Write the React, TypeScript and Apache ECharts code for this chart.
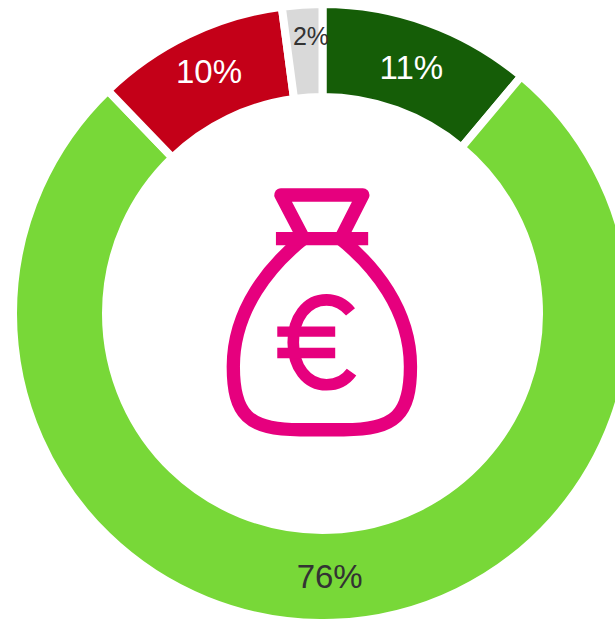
import React, { useEffect, useRef } from "react";
import * as echarts from "echarts";

const names = ["Dark green", "Green", "Red", "Grey"];
const values = [11.1, 76.7, 10.1, 2.1];
const labels = ["11%", "76%", "10%", "2%"];
const colors = ["#155d07", "#78d838", "#c40018", "#d9d9d9"];
const labelColors = ["#ffffff", "#333333", "#ffffff", "#333333"];
const labelSizes = [33, 33, 33, 25];
const labelShifts = [[-2, 4], [-2, -3], [2, -2], [6, -12]];

const PINK = "#e6007e";
const BAG =
  "M 285 203 C 180 285 70 420 70 590 C 70 735 115 780 270 780 L 402 780 C 557 780 602 735 602 590 C 602 420 492 285 387 203";
const KNOT = "M 281 205 L 213 75 L 459 75 L 393 205";
const EURO =
  "M 422 426 C 402 402 380 390 350 390 C 290 390 250 445 250 518 C 250 590 290 645 350 645 C 382 645 405 635 425 607";

echarts.graphic.registerShape("bagBody", echarts.graphic.extendPath(BAG, {}) as any);
echarts.graphic.registerShape("bagKnot", echarts.graphic.extendPath(KNOT, {}) as any);
echarts.graphic.registerShape("bagEuro", echarts.graphic.extendPath(EURO, {}) as any);

export default function App() {
  const ref = useRef<HTMLDivElement>(null);
  useEffect(() => {
    document.body.style.margin = "0";
    const chart = echarts.init(ref.current!, undefined, { renderer: "svg" });
    chart.setOption({
      animation: false,
      backgroundColor: "#ffffff",
      series: [
        {
          type: "pie",
          center: [322.5, 313.5],
          radius: [216.5, 309.5],
          startAngle: 90,
          clockwise: true,
          silent: true,
          itemStyle: { borderColor: "#ffffff", borderWidth: 8 },
          label: { position: "inside", fontFamily: "Liberation Sans, Arial, sans-serif" },
          labelLine: { show: false },
          labelLayout: (p: any) => ({ dx: labelShifts[p.dataIndex][0], dy: labelShifts[p.dataIndex][1] }),
          data: names.map((name, i) => ({
            name,
            value: values[i],
            itemStyle: { color: colors[i] },
            label: {
              formatter: labels[i],
              color: labelColors[i],
              fontSize: labelSizes[i],
              textBorderWidth: 0,
            },
          })),
        },
      ],
      graphic: [
        {
          type: "group",
          x: 210,
          y: 170,
          scaleX: 1 / 3,
          scaleY: 1 / 3,
          silent: true,
          children: [
            { type: "bagBody", style: { fill: "none", stroke: PINK, lineWidth: 40 } },
            { type: "bagKnot", style: { fill: "none", stroke: PINK, lineWidth: 40, lineJoin: "round" } },
            { type: "rect", shape: { x: 198, y: 186, width: 277, height: 40 }, style: { fill: PINK } },
            { type: "bagEuro", style: { fill: "none", stroke: PINK, lineWidth: 35 } },
            { type: "rect", shape: { x: 202, y: 470, width: 174, height: 31 }, style: { fill: PINK } },
            { type: "rect", shape: { x: 202, y: 534, width: 174, height: 31 }, style: { fill: PINK } },
          ],
        },
      ],
    });
    return () => chart.dispose();
  }, []);
  return <div ref={ref} style={{ position: "absolute", left: 0, top: 0, width: 615, height: 619 }} />;
}
